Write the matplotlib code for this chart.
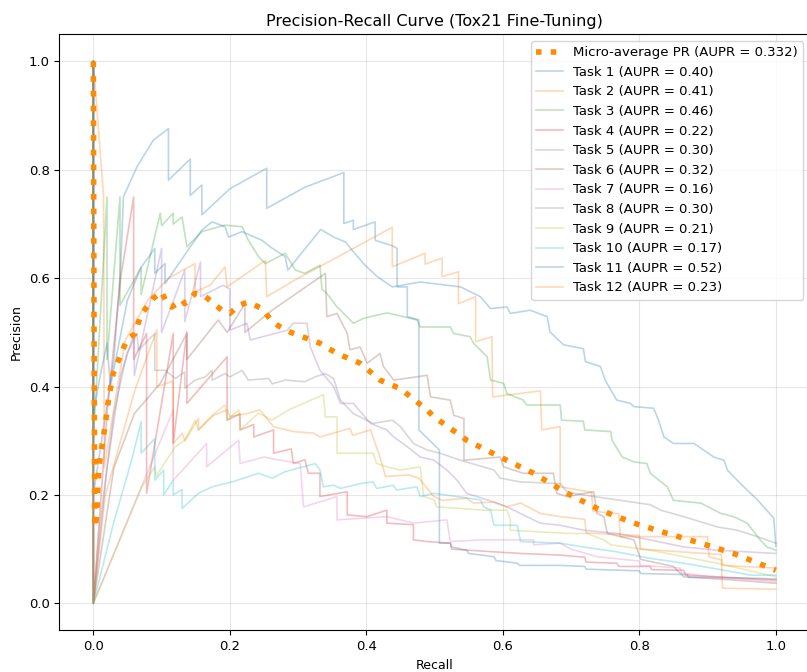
import matplotlib
matplotlib.use("Agg")
import matplotlib.pyplot as plt

# (recall, precision) vertices, one list per task
task1 = [(0, 1), (0, 0.2), (0.03, 0.45), (0.04, 0.62), (0.044, 0.75), (0.064, 0.806), (0.088, 0.855),
         (0.11, 0.876), (0.11, 0.781), (0.142, 0.82), (0.142, 0.753), (0.159, 0.772), (0.159, 0.717),
         (0.2, 0.765), (0.254, 0.803), (0.254, 0.729), (0.31, 0.768), (0.367, 0.795), (0.367, 0.701),
         (0.381, 0.707), (0.381, 0.69), (0.413, 0.704), (0.413, 0.67), (0.438, 0.66), (0.445, 0.655),
         (0.445, 0.584), (0.46, 0.584), (0.46, 0.529), (0.477, 0.523), (0.477, 0.32), (0.507, 0.283),
         (0.507, 0.111), (0.523, 0.111), (0.525, 0.104), (0.547, 0.098), (0.55, 0.092), (0.587, 0.086),
         (0.59, 0.079), (0.621, 0.074), (0.625, 0.07), (0.684, 0.07), (0.72, 0.068), (0.722, 0.063),
         (0.8, 0.06), (0.802, 0.055), (0.87, 0.053), (0.872, 0.048), (0.95, 0.047), (1.0, 0.045)]
task2 = [(0, 1), (0.015, 0.75), (0.016, 0.25), (0.03, 0.36), (0.047, 0.486), (0.08, 0.56), (0.11, 0.6),
         (0.149, 0.627), (0.149, 0.575), (0.171, 0.587), (0.193, 0.621), (0.196, 0.584), (0.252, 0.633),
         (0.254, 0.566), (0.3, 0.6), (0.34, 0.627), (0.438, 0.694), (0.438, 0.621), (0.486, 0.646),
         (0.486, 0.626), (0.511, 0.637), (0.511, 0.603), (0.535, 0.612), (0.535, 0.553), (0.56, 0.566),
         (0.56, 0.483), (0.584, 0.492), (0.585, 0.381), (0.655, 0.392), (0.657, 0.32), (0.684, 0.326),
         (0.684, 0.215), (0.73, 0.205), (0.732, 0.17), (0.77, 0.165), (0.772, 0.123), (0.9, 0.123),
         (0.902, 0.086), (0.92, 0.08), (0.922, 0.028), (1.0, 0.026)]
task3 = [(0, 1), (0, 0.3), (0.02, 0.75), (0.02, 0.45), (0.039, 0.75), (0.039, 0.55), (0.07, 0.62),
         (0.07, 0.57), (0.098, 0.72), (0.1, 0.697), (0.117, 0.72), (0.117, 0.7), (0.13, 0.713),
         (0.137, 0.658), (0.159, 0.686), (0.193, 0.698), (0.218, 0.695), (0.227, 0.67), (0.242, 0.64),
         (0.252, 0.627), (0.281, 0.646), (0.296, 0.615), (0.31, 0.609), (0.332, 0.624), (0.335, 0.58),
         (0.342, 0.572), (0.357, 0.547), (0.369, 0.532), (0.381, 0.517), (0.396, 0.526), (0.43, 0.536),
         (0.455, 0.529), (0.474, 0.523), (0.479, 0.51), (0.523, 0.51), (0.528, 0.498), (0.552, 0.492),
         (0.557, 0.48), (0.577, 0.455), (0.582, 0.412), (0.601, 0.406), (0.606, 0.387), (0.63, 0.375),
         (0.635, 0.366), (0.684, 0.366), (0.686, 0.338), (0.718, 0.336), (0.72, 0.32), (0.758, 0.317),
         (0.76, 0.301), (0.775, 0.27), (0.792, 0.261), (0.811, 0.258), (0.816, 0.24), (0.841, 0.215),
         (0.85, 0.19), (0.89, 0.185), (0.919, 0.166), (0.938, 0.16), (0.958, 0.148), (0.977, 0.117),
         (0.987, 0.104), (1.0, 0.098)]
task4 = [(0, 1), (0, 0), (0.02, 0.35), (0.04, 0.6), (0.059, 0.75), (0.059, 0.45), (0.078, 0.498),
         (0.078, 0.203), (0.117, 0.498), (0.117, 0.295), (0.137, 0.501), (0.137, 0.369), (0.196, 0.455),
         (0.196, 0.338), (0.215, 0.35), (0.215, 0.32), (0.235, 0.33), (0.235, 0.307), (0.264, 0.32),
         (0.264, 0.277), (0.29, 0.285), (0.293, 0.258), (0.31, 0.265), (0.315, 0.24), (0.332, 0.24),
         (0.332, 0.197), (0.372, 0.206), (0.372, 0.163), (0.401, 0.16), (0.43, 0.172), (0.43, 0.148),
         (0.469, 0.145), (0.469, 0.117), (0.489, 0.114), (0.523, 0.111), (0.525, 0.1), (0.587, 0.095),
         (0.626, 0.092), (0.684, 0.089), (0.72, 0.085), (0.722, 0.076), (0.767, 0.074), (0.77, 0.068),
         (0.816, 0.068), (0.818, 0.062), (0.865, 0.061), (0.868, 0.052), (0.914, 0.049), (0.95, 0.046),
         (1.0, 0.043)]
task5 = [(0, 1), (0, 0), (0.02, 0.25), (0.04, 0.42), (0.06, 0.5), (0.06, 0.42), (0.1, 0.655), (0.1, 0.5),
         (0.134, 0.615), (0.134, 0.52), (0.157, 0.63), (0.157, 0.566), (0.19, 0.587), (0.2, 0.58),
         (0.2, 0.504), (0.225, 0.517), (0.23, 0.486), (0.284, 0.504), (0.293, 0.517), (0.313, 0.517),
         (0.318, 0.473), (0.332, 0.43), (0.352, 0.4), (0.362, 0.369), (0.381, 0.369), (0.406, 0.332),
         (0.43, 0.32), (0.44, 0.307), (0.46, 0.289), (0.479, 0.27), (0.499, 0.264), (0.518, 0.246),
         (0.533, 0.227), (0.547, 0.203), (0.577, 0.191), (0.606, 0.178), (0.635, 0.16), (0.655, 0.148),
         (0.684, 0.144), (0.718, 0.135), (0.767, 0.129), (0.816, 0.117), (0.865, 0.104), (0.914, 0.098),
         (1.0, 0.092)]
task6 = [(0, 1), (0, 0), (0.03, 0.25), (0.06, 0.35), (0.098, 0.406), (0.137, 0.498), (0.137, 0.45),
         (0.183, 0.523), (0.196, 0.5), (0.222, 0.553), (0.222, 0.5), (0.262, 0.541), (0.34, 0.609),
         (0.342, 0.529), (0.357, 0.535), (0.372, 0.498), (0.376, 0.468), (0.391, 0.473), (0.401, 0.443),
         (0.42, 0.461), (0.425, 0.437), (0.44, 0.412), (0.474, 0.418), (0.489, 0.421), (0.494, 0.381),
         (0.523, 0.375), (0.528, 0.347), (0.543, 0.341), (0.543, 0.264), (0.596, 0.27), (0.601, 0.252),
         (0.63, 0.24), (0.674, 0.24), (0.679, 0.203), (0.694, 0.197), (0.733, 0.206), (0.738, 0.166),
         (0.748, 0.16), (0.753, 0.129), (0.792, 0.117), (0.802, 0.081), (0.85, 0.068), (0.865, 0.049),
         (0.938, 0.043), (1.0, 0.037)]
task7 = [(0, 1), (0, 0), (0.117, 0.357), (0.117, 0.227), (0.166, 0.295), (0.166, 0.252), (0.213, 0.301),
         (0.215, 0.258), (0.25, 0.27), (0.27, 0.265), (0.303, 0.258), (0.308, 0.178), (0.357, 0.197),
         (0.357, 0.154), (0.43, 0.16), (0.469, 0.148), (0.518, 0.154), (0.523, 0.114), (0.567, 0.117),
         (0.645, 0.117), (0.645, 0.108), (0.684, 0.111), (0.7, 0.1), (0.738, 0.086), (0.8, 0.078),
         (0.802, 0.07), (0.86, 0.065), (0.862, 0.056), (0.904, 0.049), (0.95, 0.045), (1.0, 0.04)]
task8 = [(0, 1), (0, 0), (0.01, 0.15), (0.03, 0.35), (0.049, 0.461), (0.064, 0.498), (0.066, 0.467),
         (0.09, 0.498), (0.09, 0.43), (0.105, 0.43), (0.12, 0.415), (0.134, 0.427), (0.134, 0.397),
         (0.149, 0.412), (0.164, 0.418), (0.174, 0.43), (0.174, 0.412), (0.193, 0.424), (0.2, 0.418),
         (0.218, 0.43), (0.227, 0.412), (0.257, 0.415), (0.262, 0.405), (0.281, 0.412), (0.31, 0.409),
         (0.325, 0.418), (0.34, 0.424), (0.352, 0.415), (0.362, 0.375), (0.381, 0.35), (0.41, 0.332),
         (0.438, 0.338), (0.45, 0.326), (0.469, 0.295), (0.489, 0.283), (0.508, 0.277), (0.538, 0.264),
         (0.587, 0.246), (0.596, 0.231), (0.626, 0.224), (0.684, 0.221), (0.694, 0.206), (0.718, 0.2),
         (0.767, 0.191), (0.816, 0.182), (0.831, 0.172), (0.865, 0.16), (0.914, 0.141), (0.943, 0.135),
         (0.973, 0.123), (1.0, 0.111)]
task9 = [(0, 1), (0, 0), (0.071, 0.215), (0.09, 0.252), (0.092, 0.235), (0.12, 0.289), (0.134, 0.301),
         (0.149, 0.338), (0.154, 0.32), (0.174, 0.347), (0.193, 0.366), (0.196, 0.338), (0.213, 0.357),
         (0.215, 0.32), (0.242, 0.351), (0.262, 0.338), (0.286, 0.357), (0.337, 0.385), (0.34, 0.344),
         (0.357, 0.344), (0.357, 0.277), (0.41, 0.277), (0.415, 0.258), (0.43, 0.252), (0.45, 0.246),
         (0.479, 0.252), (0.484, 0.197), (0.499, 0.191), (0.503, 0.178), (0.572, 0.172), (0.606, 0.172),
         (0.611, 0.154), (0.611, 0.135), (0.694, 0.129), (0.723, 0.129), (0.748, 0.117), (0.758, 0.108),
         (0.816, 0.098), (0.865, 0.086), (0.914, 0.074), (1.0, 0.049)]
task10 = [(0, 1), (0, 0), (0.03, 0.15), (0.056, 0.264), (0.07, 0.335), (0.07, 0.277), (0.09, 0.304),
          (0.09, 0.227), (0.103, 0.246), (0.103, 0.2), (0.117, 0.227), (0.117, 0.2), (0.13, 0.21),
          (0.13, 0.175), (0.154, 0.203), (0.174, 0.215), (0.203, 0.224), (0.242, 0.24), (0.262, 0.231),
          (0.281, 0.243), (0.325, 0.258), (0.332, 0.246), (0.337, 0.215), (0.352, 0.218), (0.362, 0.212),
          (0.391, 0.221), (0.41, 0.224), (0.415, 0.212), (0.44, 0.218), (0.444, 0.209), (0.474, 0.215),
          (0.479, 0.197), (0.499, 0.203), (0.567, 0.191), (0.572, 0.178), (0.582, 0.172), (0.587, 0.144),
          (0.621, 0.144), (0.626, 0.114), (0.684, 0.111), (0.718, 0.104), (0.767, 0.095), (0.816, 0.083),
          (0.865, 0.074), (0.924, 0.061), (0.963, 0.052), (1.0, 0.052)]
task11 = [(0, 1), (0, 0.35), (0.01, 0.42), (0.02, 0.48), (0.025, 0.4), (0.05, 0.56), (0.07, 0.62),
          (0.09, 0.655), (0.09, 0.609), (0.105, 0.627), (0.105, 0.59), (0.159, 0.689), (0.174, 0.704),
          (0.193, 0.695), (0.198, 0.676), (0.218, 0.686), (0.247, 0.67), (0.259, 0.658), (0.281, 0.64),
          (0.285, 0.615), (0.333, 0.69), (0.352, 0.676), (0.369, 0.667), (0.381, 0.649), (0.398, 0.624),
          (0.416, 0.603), (0.438, 0.584), (0.479, 0.593), (0.538, 0.584), (0.567, 0.566), (0.582, 0.544),
          (0.606, 0.547), (0.611, 0.535), (0.64, 0.541), (0.665, 0.529), (0.669, 0.501), (0.689, 0.477),
          (0.718, 0.47), (0.721, 0.446), (0.743, 0.437), (0.75, 0.412), (0.758, 0.394), (0.767, 0.375),
          (0.787, 0.369), (0.792, 0.363), (0.821, 0.36), (0.828, 0.338), (0.836, 0.307), (0.85, 0.295),
          (0.88, 0.295), (0.894, 0.283), (0.909, 0.27), (0.924, 0.264), (0.929, 0.246), (0.948, 0.221),
          (0.963, 0.203), (0.973, 0.191), (0.997, 0.157), (1.0, 0.105)]
task12 = [(0, 1), (0, 0), (0.017, 0.197), (0.061, 0.394), (0.093, 0.505), (0.093, 0.4), (0.117, 0.41),
          (0.117, 0.295), (0.13, 0.314), (0.134, 0.3), (0.154, 0.341), (0.154, 0.32), (0.176, 0.347),
          (0.196, 0.357), (0.2, 0.345), (0.225, 0.35), (0.244, 0.357), (0.264, 0.326), (0.293, 0.317),
          (0.323, 0.314), (0.332, 0.307), (0.376, 0.323), (0.38, 0.31), (0.406, 0.32), (0.42, 0.27),
          (0.428, 0.234), (0.462, 0.237), (0.477, 0.231), (0.499, 0.197), (0.511, 0.19), (0.547, 0.194),
          (0.557, 0.185), (0.587, 0.187), (0.606, 0.178), (0.626, 0.185), (0.655, 0.166), (0.684, 0.16),
          (0.72, 0.155), (0.722, 0.13), (0.8, 0.125), (0.802, 0.1), (0.92, 0.09), (0.922, 0.07), (1.0, 0.065)]

micro = [(0, 1), (0.001, 0.5), (0.002, 0.14), (0.005, 0.16), (0.007, 0.227), (0.01, 0.27), (0.017, 0.326),
         (0.022, 0.375), (0.029, 0.424), (0.037, 0.449), (0.049, 0.486), (0.061, 0.498), (0.068, 0.526),
         (0.073, 0.538), (0.088, 0.563), (0.1, 0.575), (0.108, 0.553), (0.115, 0.547), (0.13, 0.56),
         (0.134, 0.553), (0.149, 0.572), (0.164, 0.566), (0.174, 0.556), (0.188, 0.541), (0.2, 0.535),
         (0.213, 0.55), (0.227, 0.556), (0.247, 0.544), (0.262, 0.52), (0.281, 0.504), (0.3, 0.495),
         (0.332, 0.48), (0.357, 0.461), (0.391, 0.443), (0.42, 0.412), (0.45, 0.396), (0.489, 0.357),
         (0.499, 0.344), (0.533, 0.314), (0.547, 0.301), (0.596, 0.27), (0.645, 0.24), (0.694, 0.203),
         (0.743, 0.172), (0.792, 0.148), (0.841, 0.129), (0.89, 0.111), (0.938, 0.092), (1.0, 0.061)]

tasks = [task1, task2, task3, task4, task5, task6, task7, task8, task9, task10, task11, task12]
aupr = [0.40, 0.41, 0.46, 0.22, 0.30, 0.32, 0.16, 0.30, 0.21, 0.17, 0.52, 0.23]
micro_aupr = 0.332
colors = ["C0", "C1", "C2", "C3", "C4", "C5", "C6", "C7", "C8", "C9", "C0", "C1"]

plt.rcParams["font.size"] = 9.5

fig = plt.figure(figsize=(8.07, 6.72), dpi=100)
ax = fig.add_axes([0.0734, 0.0619, 0.9303, 0.8869])

r, p = zip(*micro)
ax.plot(r, p, color="darkorange", linestyle=":", linewidth=4,
        label=f"Micro-average PR (AUPR = {micro_aupr:.3f})", zorder=3)

for i, pts in enumerate(tasks):
    r, p = zip(*pts)
    ax.plot(r, p, color=colors[i], alpha=0.3, linewidth=1.2,
            label=f"Task {i + 1} (AUPR = {aupr[i]:.2f})")

ax.set_xlim(-0.05, 1.05)
ax.set_ylim(-0.05, 1.05)
ax.set_xlabel("Recall", fontsize=9)
ax.set_ylabel("Precision", fontsize=9)
ax.set_title("Precision-Recall Curve (Tox21 Fine-Tuning)", fontsize=11.5)
ax.grid(True, alpha=0.3)
ax.legend(loc="upper right", fontsize=9.5, labelspacing=0.5)

fig.savefig("out.png", dpi=100)
